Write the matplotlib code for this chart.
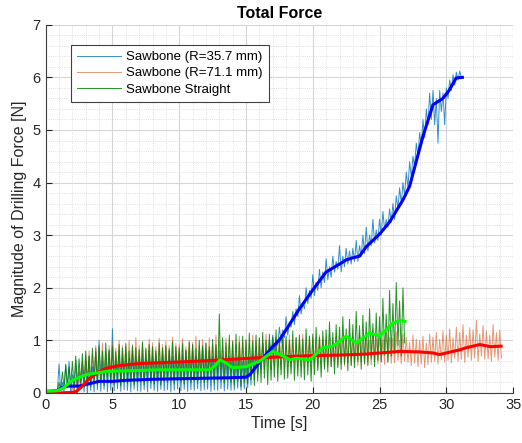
import numpy as np
import matplotlib.pyplot as plt
from matplotlib.ticker import MultipleLocator

plt.rcParams['font.family'] = ['Liberation Sans', 'DejaVu Sans']

# raw signals: spike peaks and troughs, 4 per second
dt = 0.25

blue_peak = [
    0.04, 0.04, 0.05, 0.05,
    0.55, 0.20, 0.52, 0.60,
    0.35, 0.62, 0.40, 0.55,
    0.60, 0.70, 0.50, 0.85,
    1.00, 0.60, 0.75, 0.80,
    1.22, 0.65, 0.80, 0.70,
    0.75, 0.65, 0.80, 0.70,
    0.70, 0.75, 0.65, 0.80,
    0.70, 0.75, 0.65, 0.80,
    0.70, 0.80, 0.70, 0.75,
    0.75, 0.70, 0.80, 0.70,
    0.80, 0.70, 0.75, 0.85,
    0.75, 0.80, 0.70, 0.85,
    0.80, 0.70, 0.75, 0.70,
    0.70, 0.65, 0.70, 0.60,
    0.60, 0.65, 0.75, 0.85,
    0.75, 0.95, 0.85, 1.00,
    1.10, 1.05, 1.25, 1.20,
    1.45, 1.35, 1.55, 1.60,
    1.85, 1.70, 2.00, 1.95,
    2.25, 2.10, 2.35, 2.30,
    2.55, 2.40, 2.60, 2.50,
    2.80, 2.60, 2.75, 2.70,
    2.75, 2.90, 2.80, 3.00,
    3.15, 3.00, 3.30, 3.10,
    3.30, 3.45, 3.30, 3.50,
    3.60, 3.75, 3.90, 4.00,
    4.20, 4.40, 4.50, 4.75,
    4.95, 5.20, 5.40, 5.70,
    5.75, 5.60, 5.75, 5.70,
    5.80, 5.95, 6.05, 6.10,
    6.12,
]
blue_trough = [
    0.02, 0.02, 0.03, 0.03,
    0.05, 0.03, 0.10, 0.00,
    0.05, 0.00, 0.08, 0.02,
    0.00, 0.05, 0.02, 0.06,
    0.03, 0.07, 0.02, 0.05,
    0.04, 0.08, 0.03, 0.06,
    0.05, 0.02, 0.07, 0.04,
    0.03, 0.06, 0.02, 0.08,
    0.05, 0.03, 0.07, 0.04,
    0.06, 0.02, 0.05, 0.08,
    0.04, 0.07, 0.03, 0.06,
    0.05, 0.08, 0.04, 0.06,
    0.07, 0.03, 0.06, 0.05,
    0.08, 0.04, 0.07, 0.05,
    0.06, 0.09, 0.05, 0.08,
    0.10, 0.15, 0.25, 0.35,
    0.45, 0.60, 0.65, 0.75,
    0.80, 0.90, 0.95, 1.05,
    1.10, 1.25, 1.30, 1.45,
    1.50, 1.60, 1.70, 1.80,
    1.85, 1.95, 2.00, 2.10,
    2.15, 2.20, 2.30, 2.35,
    2.30, 2.40, 2.45, 2.45,
    2.50, 2.50, 2.60, 2.65,
    2.70, 2.80, 2.85, 2.90,
    3.00, 3.10, 3.15, 3.25,
    3.30, 3.50, 3.60, 3.75,
    3.90, 4.10, 4.30, 4.50,
    4.70, 4.85, 5.10, 5.20,
    5.10, 4.75, 5.35, 5.10,
    5.60, 5.75, 5.85, 5.95,
    6.00,
]

red_peak = [
    0.01, 0.01, 0.01, 0.01,
    0.01, 0.01, 0.01, 0.01,
    0.10, 0.30, 0.50, 0.60,
    0.70, 0.80, 0.75, 0.90,
    0.85, 0.95, 0.80, 0.90,
    0.95, 0.85, 1.00, 0.90,
    0.88, 1.00, 0.92, 1.05,
    0.90, 0.98, 0.86, 1.02,
    0.95, 0.88, 1.04, 0.92,
    0.98, 0.90, 1.06, 0.94,
    0.92, 1.03, 0.88, 1.00,
    0.96, 1.08, 0.90, 1.02,
    0.94, 1.05, 0.92, 1.10,
    0.98, 0.90, 1.04, 0.95,
    1.00, 0.92, 1.08, 0.96,
    1.02, 0.94, 1.10, 0.98,
    1.05, 0.95, 1.12, 1.00,
    0.96, 1.08, 0.98, 1.14,
    1.00, 1.10, 0.94, 1.06,
    1.02, 1.12, 0.96, 1.08,
    1.06, 0.96, 1.10, 1.02,
    1.00, 1.12, 0.98, 1.08,
    1.04, 1.14, 1.00, 1.10,
    1.06, 0.98, 1.16, 1.02,
    1.08, 1.00, 1.18, 1.04,
    1.10, 1.02, 1.20, 1.06,
    1.04, 1.16, 1.00, 1.12,
    1.06, 0.96, 1.10, 1.02,
    1.00, 1.08, 0.95, 1.12,
    1.06, 1.15, 1.02, 1.18,
    1.10, 1.22, 1.05, 1.25,
    1.15, 1.30, 1.10, 1.24,
    1.20, 1.38, 1.12, 1.28,
    1.18, 1.10, 1.30, 1.15,
    1.20,
]
red_trough = [
    0.00, 0.00, 0.00, 0.00,
    0.00, 0.00, 0.00, 0.00,
    0.00, 0.05, 0.10, 0.15,
    0.15, 0.20, 0.25, 0.30,
    0.28, 0.32, 0.26, 0.35,
    0.30, 0.36, 0.28, 0.34,
    0.32, 0.38, 0.30, 0.36,
    0.34, 0.28, 0.38, 0.32,
    0.36, 0.30, 0.38, 0.33,
    0.35, 0.40, 0.32, 0.37,
    0.38, 0.34, 0.40, 0.36,
    0.39, 0.35, 0.42, 0.38,
    0.40, 0.36, 0.43, 0.39,
    0.42, 0.38, 0.44, 0.40,
    0.43, 0.40, 0.46, 0.42,
    0.45, 0.42, 0.48, 0.44,
    0.47, 0.43, 0.50, 0.46,
    0.48, 0.52, 0.45, 0.50,
    0.50, 0.46, 0.53, 0.48,
    0.52, 0.47, 0.55, 0.50,
    0.53, 0.49, 0.56, 0.51,
    0.54, 0.50, 0.57, 0.52,
    0.55, 0.51, 0.58, 0.53,
    0.56, 0.52, 0.59, 0.54,
    0.57, 0.53, 0.60, 0.55,
    0.58, 0.54, 0.61, 0.56,
    0.57, 0.62, 0.55, 0.60,
    0.58, 0.52, 0.56, 0.50,
    0.55, 0.48, 0.54, 0.58,
    0.60, 0.55, 0.63, 0.58,
    0.62, 0.57, 0.66, 0.60,
    0.64, 0.58, 0.68, 0.62,
    0.66, 0.60, 0.70, 0.64,
    0.65, 0.60, 0.68, 0.62,
    0.66,
]

green_peak = [
    0.03, 0.03, 0.04, 0.04,
    0.20, 0.40, 0.55, 0.50,
    0.60, 0.70, 0.65, 0.75,
    0.80, 0.70, 0.85, 0.78,
    0.90, 0.80, 0.95, 0.82,
    0.88, 0.78, 0.92, 0.85,
    0.94, 0.80, 0.90, 0.86,
    0.82, 0.96, 0.84, 0.92,
    0.88, 0.80, 0.95, 0.86,
    0.90, 0.84, 0.98, 0.88,
    0.86, 0.94, 0.82, 0.96,
    0.92, 0.85, 1.00, 0.90,
    0.95, 0.88, 1.02, 0.92,
    1.50, 1.05, 0.95, 1.10,
    0.98, 1.12, 0.96, 1.08,
    1.00, 1.14, 0.98, 1.10,
    1.04, 1.15, 1.00, 1.12,
    1.06, 1.20, 1.02, 1.14,
    1.08, 1.00, 1.18, 1.05,
    1.10, 1.02, 1.22, 1.08,
    1.12, 1.25, 1.06, 1.18,
    1.20, 1.35, 1.15, 1.30,
    1.25, 1.45, 1.22, 1.40,
    1.30, 1.55, 1.28, 1.48,
    1.35, 1.60, 1.32, 1.52,
    1.45, 1.80, 1.50, 1.95,
    1.70, 2.10, 1.75, 2.00,
]
green_trough = [
    0.02, 0.02, 0.03, 0.03,
    0.05, 0.10, 0.10, 0.15,
    0.10, 0.15, 0.20, 0.12,
    0.18, 0.12, 0.22, 0.15,
    0.20, 0.14, 0.24, 0.18,
    0.16, 0.22, 0.14, 0.20,
    0.18, 0.24, 0.15, 0.21,
    0.22, 0.16, 0.25, 0.19,
    0.17, 0.23, 0.15, 0.22,
    0.20, 0.26, 0.18, 0.24,
    0.21, 0.17, 0.25, 0.19,
    0.23, 0.18, 0.26, 0.20,
    0.22, 0.28, 0.19, 0.25,
    0.24, 0.18, 0.26, 0.20,
    0.15, 0.22, 0.12, 0.20,
    0.18, 0.26, 0.14, 0.22,
    0.20, 0.28, 0.16, 0.24,
    0.30, 0.22, 0.34, 0.26,
    0.28, 0.36, 0.24, 0.32,
    0.30, 0.25, 0.34, 0.22,
    0.35, 0.42, 0.30, 0.45,
    0.40, 0.50, 0.36, 0.48,
    0.45, 0.55, 0.42, 0.52,
    0.48, 0.60, 0.45, 0.56,
    0.52, 0.65, 0.50, 0.62,
    0.60, 0.72, 0.58, 0.70,
    0.75, 0.90, 0.70, 0.95,
]

# smoothed curves (time, value)
blue_t = [0, 0.8, 1.2, 1.6, 2.5, 3.0, 4.0, 5.0, 6.0, 8.0, 10.0, 12.0, 14.0, 15.0,
          15.3, 16.0, 17.0, 17.5, 18.0, 19.0, 20.0, 21.0, 22.0, 22.5, 23.0, 23.5,
          24.0, 25.0, 25.75, 26.75, 27.25, 28.25, 29.0, 29.74, 30.2, 30.74, 31.2]
blue_s = [0.03, 0.04, 0.10, 0.13, 0.13, 0.16, 0.22, 0.22, 0.24, 0.26, 0.27, 0.28,
          0.29, 0.30, 0.35, 0.58, 0.88, 1.01, 1.20, 1.60, 1.96, 2.30, 2.45, 2.53,
          2.57, 2.60, 2.78, 3.02, 3.25, 3.67, 3.93, 4.88, 5.48, 5.60, 5.75, 5.99, 6.00]

red_t = [0, 1.0, 2.0, 2.3, 2.7, 3.3, 4.0, 4.56, 5.5, 7.05, 9.2, 12.0, 14.0, 16.0,
         18.0, 20.0, 22.0, 24.0, 26.5, 28.0, 29.0, 29.5, 30.0, 31.0, 31.5, 32.5,
         33.3, 34.1]
red_s = [0.0, 0.0, 0.01, 0.03, 0.12, 0.28, 0.40, 0.47, 0.52, 0.56, 0.58, 0.61,
         0.64, 0.67, 0.69, 0.71, 0.72, 0.74, 0.79, 0.78, 0.76, 0.73, 0.76, 0.82,
         0.86, 0.92, 0.88, 0.89]

green_t = [0, 0.8, 1.3, 2.06, 3.07, 4.56, 6.0, 8.55, 12.3, 12.7, 13.05, 13.5,
           14.0, 15.0, 16.0, 17.0, 17.8, 18.3, 18.77, 19.77, 20.3, 20.76, 21.5,
           22.0, 22.5, 23.26, 23.8, 24.26, 25.0, 25.5, 26.0, 26.5, 26.9]
green_s = [0.03, 0.04, 0.09, 0.25, 0.35, 0.41, 0.42, 0.44, 0.44, 0.52, 0.63, 0.57,
           0.48, 0.50, 0.60, 0.79, 0.70, 0.63, 0.66, 0.63, 0.75, 0.86, 0.89, 0.98,
           1.08, 0.95, 1.05, 1.14, 1.08, 1.20, 1.33, 1.38, 1.36]

labels = ['Sawbone (R=35.7 mm)', 'Sawbone (R=71.1 mm)', 'Sawbone Straight']


def zigzag(peaks, troughs):
    # alternate peak / trough samples along the time axis
    n = len(peaks)
    t = np.empty(2 * n)
    y = np.empty(2 * n)
    t[0::2] = np.arange(n) * dt
    t[1::2] = np.arange(n) * dt + dt / 2
    y[0::2] = peaks
    y[1::2] = troughs
    return t, y


fig, ax = plt.subplots(figsize=(5.22, 4.43), dpi=100)
fig.subplots_adjust(left=0.0875, right=0.983, bottom=0.113, top=0.944)

tb, yb = zigzag(blue_peak, blue_trough)
tr, yr = zigzag(red_peak, red_trough)
tg, yg = zigzag(green_peak, green_trough)
ax.plot(tb, yb, color='#0072BD', lw=0.7, alpha=0.8, label=labels[0])
ax.plot(tr, yr, color='#D95319', lw=0.7, alpha=0.6, label=labels[1])
ax.plot(tg, yg, color='#008000', lw=0.7, alpha=0.85, label=labels[2])

ax.plot(blue_t, blue_s, color='#0000FF', lw=2.2)
ax.plot(red_t, red_s, color='#FF0000', lw=2.2)
ax.plot(green_t, green_s, color='#00FF00', lw=2.2)

ax.set_xlim(0, 35)
ax.set_ylim(0, 7)
ax.xaxis.set_major_locator(MultipleLocator(5))
ax.xaxis.set_minor_locator(MultipleLocator(1))
ax.yaxis.set_major_locator(MultipleLocator(1))
ax.yaxis.set_minor_locator(MultipleLocator(0.2))
ax.grid(which='major', color='#d6d6d6', lw=0.8)
ax.grid(which='minor', color='#d6d6d6', lw=0.6, linestyle=':')
ax.set_axisbelow(True)
for s in ['top', 'right']:
    ax.spines[s].set_visible(False)
for s in ['left', 'bottom']:
    ax.spines[s].set_color('#404040')
ax.tick_params(which='both', direction='in', colors='#262626', labelsize=10.5)
ax.tick_params(which='major', length=4)
ax.tick_params(which='minor', length=0)

ax.set_xlabel('Time [s]', fontsize=11.5, color='#262626', labelpad=3)
ax.set_ylabel('Magnitude of Drilling Force [N]', fontsize=11.5, color='#262626', labelpad=4)
ax.set_title('Total Force', fontsize=11.5, fontweight='bold', pad=5)

leg = ax.legend(loc='upper left', bbox_to_anchor=(0.055, 0.945), fontsize=9.5,
                handlelength=3.3, fancybox=False, framealpha=1, edgecolor='#404040',
                borderpad=0.45, labelspacing=0.3, handletextpad=0.4, borderaxespad=0)
leg.get_frame().set_linewidth(0.8)

fig.savefig('out.png', dpi=100)
